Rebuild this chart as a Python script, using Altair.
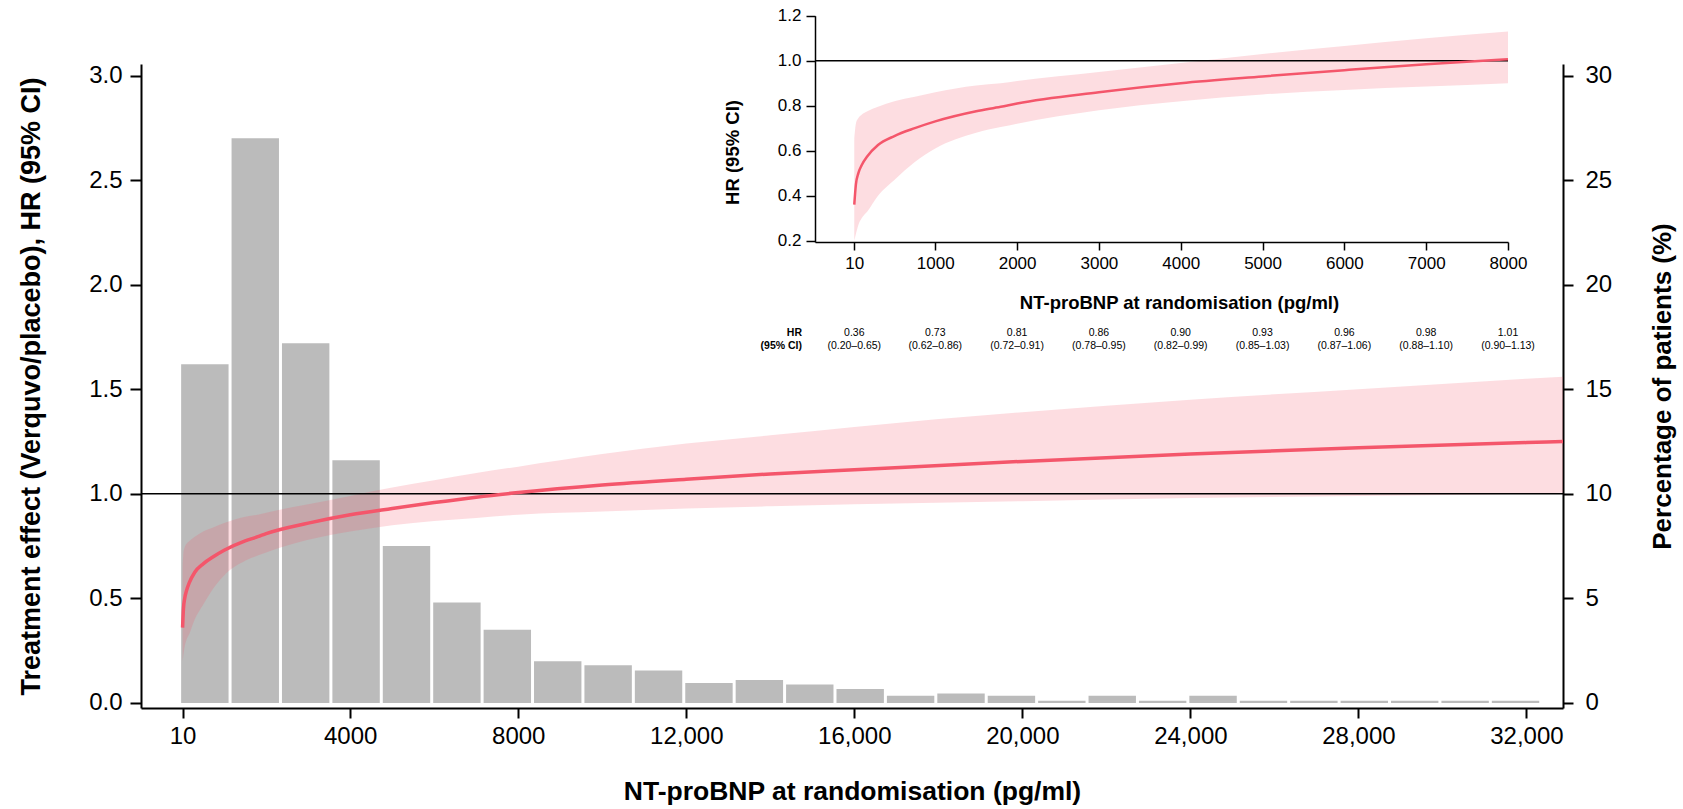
import altair as alt
import pandas as pd

# ---------------- data ----------------
bin_start = [-60, 1140, 2340, 3540, 4740, 5940, 7140, 8340, 9540, 10740, 11940, 13140, 14340,
             15540, 16740, 17940, 19140, 20340, 21540, 22740, 23940, 25140, 26340, 27540,
             28740, 29940, 31140]
bin_width = 1200
pct_patients = [16.2, 27.0, 17.2, 11.6, 7.5, 4.8, 3.5, 2.0, 1.8, 1.55, 0.96, 1.1, 0.88,
                0.67, 0.35, 0.45, 0.35, 0.11, 0.35, 0.11, 0.35, 0.11, 0.11, 0.11,
                0.11, 0.11, 0.11]

nt_probnp = [10, 30, 60, 100, 170, 300, 500, 750, 1000, 1500, 1800, 2000, 3000, 4000, 5000,
             6000, 7000, 8000, 10000, 12000, 14000, 16000, 20000, 24000, 28000, 32000, 32870]
hr_est = [0.36, 0.45, 0.50, 0.535, 0.575, 0.625, 0.665, 0.70, 0.73, 0.775, 0.795, 0.81, 0.86,
          0.90, 0.93, 0.958, 0.984, 1.006, 1.042, 1.07, 1.095, 1.115, 1.155, 1.19, 1.22, 1.245, 1.25]
hr_lo = [0.20, 0.23, 0.27, 0.30, 0.33, 0.40, 0.47, 0.55, 0.61, 0.68, 0.705, 0.72, 0.78,
         0.82, 0.85, 0.87, 0.885, 0.90, 0.915, 0.93, 0.94, 0.95, 0.965, 0.98, 0.99, 1.00, 1.005]
hr_hi = [0.65, 0.72, 0.745, 0.76, 0.775, 0.795, 0.82, 0.84, 0.86, 0.89, 0.90, 0.91, 0.95,
         0.99, 1.03, 1.065, 1.10, 1.13, 1.19, 1.24, 1.28, 1.32, 1.39, 1.45, 1.50, 1.55, 1.56]

inset_ticks = [10, 1000, 2000, 3000, 4000, 5000, 6000, 7000, 8000]
table_hr = ["0.36", "0.73", "0.81", "0.86", "0.90", "0.93", "0.96", "0.98", "1.01"]
table_ci = ["(0.20–0.65)", "(0.62–0.86)", "(0.72–0.91)", "(0.78–0.95)", "(0.82–0.99)",
            "(0.85–1.03)", "(0.87–1.06)", "(0.88–1.10)", "(0.90–1.13)"]

main_x_ticks = [10, 4000, 8000, 12000, 16000, 20000, 24000, 28000, 32000]
main_hr_ticks = [0.0, 0.5, 1.0, 1.5, 2.0, 2.5, 3.0]
pct_ticks = [0, 5, 10, 15, 20, 25, 30]
inset_hr_ticks = [0.2, 0.4, 0.6, 0.8, 1.0, 1.2]

# ---------------- style ----------------
RED = "#F4566B"
GREY = "#BBBBBB"
FONT = "Liberation Sans"

bars_df = pd.DataFrame({"start": bin_start, "pct": pct_patients})
bars_df["end"] = bars_df["start"] + bin_width
curve_df = pd.DataFrame({"nt": nt_probnp, "hr": hr_est, "lo": hr_lo, "hi": hr_hi})
inset_df = curve_df[curve_df["nt"] <= 8000]
table_df = pd.DataFrame({"nt": inset_ticks, "hr": table_hr, "ci": table_ci})
one = pd.DataFrame({"k": [0]})

W, H = 1422, 644
XM = alt.Scale(domain=[-980, 32870], nice=False, zero=False)
YM = alt.Scale(domain=[-0.024, 3.055], nice=False, zero=False)
YP = alt.Scale(domain=[-0.24, 30.55], nice=False, zero=False)
XI = alt.Scale(domain=[-470, 8000], range=[674, 1367], nice=False, zero=False)
YI = alt.Scale(domain=[0.194, 1.2], range=[178, -48.3], nice=False, zero=False)

ax_x_main = alt.Axis(orient="bottom", values=main_x_ticks,
                     labelExpr="datum.value >= 10000 ? format(datum.value, ',') : format(datum.value, 'd')",
                     title="NT-proBNP at randomisation (pg/ml)", labelFontSize=24, titleFontSize=26.5,
                     titleFontWeight="bold", tickSize=10, tickWidth=2, domainWidth=2,
                     labelPadding=6, titlePadding=30)
ax_y_main = alt.Axis(orient="left", values=main_hr_ticks, format=".1f",
                     title="Treatment effect (Verquvo/placebo), HR (95% CI)", labelFontSize=24,
                     titleFontSize=27, titleFontWeight="bold", tickSize=11, tickWidth=2,
                     domainWidth=2, labelPadding=8, titlePadding=43)
ax_pct = alt.Axis(orient="right", values=pct_ticks, format="d", title="Percentage of patients (%)",
                  titleAngle=270, titleBaseline="top", labelFontSize=24, titleFontSize=26,
                  titleFontWeight="bold", tickSize=10, tickWidth=2, domainWidth=2,
                  labelPadding=12, titlePadding=38)
ax_x_in = alt.Axis(orient="bottom", offset=-466, values=inset_ticks, format="d",
                   title="NT-proBNP at randomisation (pg/ml)", titleX=1038, labelFontSize=17,
                   titleFontSize=18.5, titleFontWeight="bold", tickSize=8, tickWidth=1.5,
                   domainWidth=1.5, labelPadding=5, titlePadding=22)
ax_y_in = alt.Axis(orient="left", offset=-674, values=inset_hr_ticks, format=".1f",
                   title="HR (95% CI)", titleY=88, labelFontSize=17, titleFontSize=18.5,
                   titleFontWeight="bold", tickSize=9, tickWidth=1.5, domainWidth=1.5,
                   labelPadding=5, titlePadding=35)

bars = alt.Chart(bars_df).mark_bar(color=GREY, xOffset=1.5, x2Offset=-1.5).encode(
    x=alt.X("start:Q", scale=XM, axis=ax_x_main),
    x2="end:Q",
    y=alt.Y("pct:Q", scale=YP, axis=ax_pct),
    y2=alt.Y2(datum=0),
)
band = alt.Chart(curve_df).mark_area(color=RED, opacity=0.2, interpolate="monotone").encode(
    x=alt.X("nt:Q", scale=XM, axis=None),
    y=alt.Y("lo:Q", scale=YM, axis=ax_y_main),
    y2="hi:Q",
)
rule_main = alt.Chart(one).mark_rule(color="black", strokeWidth=1.5).encode(
    y=alt.Y(datum=1, scale=YM, axis=None)
)
line = alt.Chart(curve_df).mark_line(color=RED, strokeWidth=3.5, interpolate="monotone").encode(
    x=alt.X("nt:Q", scale=XM, axis=None),
    y=alt.Y("hr:Q", scale=YM, axis=None),
)

in_band = alt.Chart(inset_df).mark_area(color=RED, opacity=0.2, interpolate="monotone").encode(
    x=alt.X("nt:Q", scale=XI, axis=ax_x_in),
    y=alt.Y("lo:Q", scale=YI, axis=ax_y_in),
    y2="hi:Q",
)
in_rule = alt.Chart(one).mark_rule(color="black", strokeWidth=1.5).encode(
    x=alt.X(datum=-470, scale=XI, axis=None),
    x2=alt.X2(datum=8000),
    y=alt.Y(datum=1, scale=YI, axis=None),
)
in_line = alt.Chart(inset_df).mark_line(color=RED, strokeWidth=2.5, interpolate="monotone").encode(
    x=alt.X("nt:Q", scale=XI, axis=None),
    y=alt.Y("hr:Q", scale=YI, axis=None),
)

tab_hr = alt.Chart(table_df).mark_text(font=FONT, fontSize=10.5, baseline="middle", color="black").encode(
    x=alt.X("nt:Q", scale=XI, axis=None), y=alt.value(269), text="hr:N")
tab_ci = alt.Chart(table_df).mark_text(font=FONT, fontSize=10.5, baseline="middle", color="black").encode(
    x=alt.X("nt:Q", scale=XI, axis=None), y=alt.value(282), text="ci:N")
lab_hr = alt.Chart(one).mark_text(font=FONT, fontSize=10.5, fontWeight="bold", align="right",
                                  baseline="middle", color="black").encode(
    x=alt.value(661), y=alt.value(269), text=alt.value("HR"))
lab_ci = alt.Chart(one).mark_text(font=FONT, fontSize=10.5, fontWeight="bold", align="right",
                                  baseline="middle", color="black").encode(
    x=alt.value(661), y=alt.value(282), text=alt.value("(95% CI)"))

chart = alt.layer(
    bars, band, rule_main, line, in_band, in_rule, in_line, tab_hr, tab_ci, lab_hr, lab_ci
).resolve_scale(
    x="independent", y="independent"
).properties(
    width=W, height=H,
    padding={"left": 141, "top": 64, "right": 120, "bottom": 101},
    autosize=alt.AutoSizeParams(type="none"),
    background="white",
).configure_view(
    strokeWidth=0
).configure_axis(
    labelFont=FONT, titleFont=FONT, labelColor="black", titleColor="black",
    domainColor="black", tickColor="black", grid=False, labelFlush=False, labelOverlap=False,
)

chart.save("out.html", embed_options={"renderer": "svg", "actions": False})
